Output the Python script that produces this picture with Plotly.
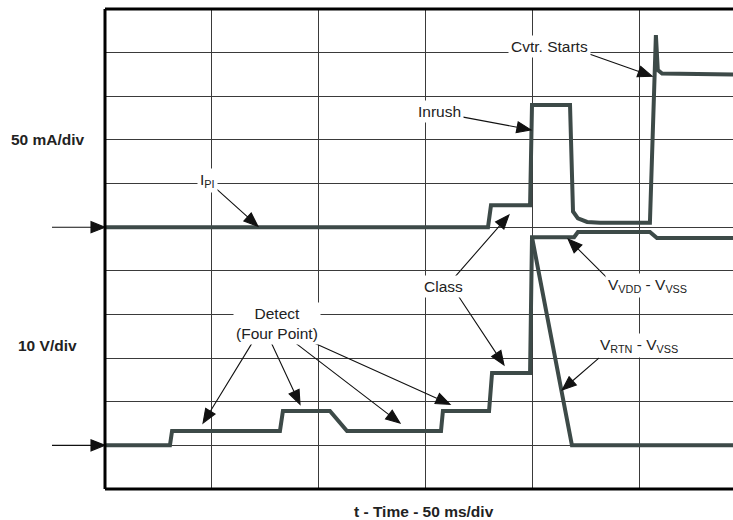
import math
import plotly.graph_objects as go

# ---- scope settings ----
T_DIV = 50      # ms/div
I_DIV = 50      # mA/div
V_DIV = 10      # V/div
I_ZERO = 6      # div (current trace zero level)
V_ZERO = 1      # div (voltage trace zero level)
N_YDIV = 11
T_MAX = 294     # ms shown

# ---- I_PI (mA) ----
t_ipi = [0, 179.3, 180.7, 199.0, 199.9, 217.7, 219.1, 221.4, 225.7, 231.7,
         255.1, 257.9, 258.8, 260.8, 294.0]
i_pi = [0, 0, 25, 25, 140, 140, 18, 10, 6, 5,
        5, 220, 180, 176, 175]

# ---- V_VDD - V_VSS (V) ----
t_vdd = [0, 30.4, 31.4, 81.9, 83.3, 105.3, 113.3, 157.3, 158.2, 179.8,
         181.2, 199.0, 199.9, 219.6, 221.4, 255.1, 258.4, 294.0]
v_vdd = [0, 0, 3.3, 3.3, 7.9, 7.9, 3.3, 3.3, 7.9, 7.9,
         16.6, 16.6, 47.7, 47.7, 48.9, 48.9, 47.5, 47.5]

# ---- V_RTN - V_VSS after turn-on (V) ----
t_rtn = [199.9, 218.6, 294.0]
v_rtn = [47.7, 0, 0]

TRACE_COLOR = "#3d4a48"
FONT = "Liberation Sans, Arial, sans-serif"

fig = go.Figure()
fig.add_trace(go.Scatter(x=t_ipi, y=[I_ZERO + v / I_DIV for v in i_pi],
                         mode="lines", line=dict(color=TRACE_COLOR, width=4),
                         name="I_PI", hoverinfo="skip"))
fig.add_trace(go.Scatter(x=t_vdd, y=[V_ZERO + v / V_DIV for v in v_vdd],
                         mode="lines", line=dict(color=TRACE_COLOR, width=4),
                         name="VDD-VSS", hoverinfo="skip"))
fig.add_trace(go.Scatter(x=t_rtn, y=[V_ZERO + v / V_DIV for v in v_rtn],
                         mode="lines", line=dict(color=TRACE_COLOR, width=4),
                         name="RTN-VSS", hoverinfo="skip"))

ann = []
shapes = []

def label(text, x, y):
    ann.append(dict(x=x, y=y, xref="x", yref="y", text=text, showarrow=False,
                    xanchor="center", yanchor="middle", bgcolor="white",
                    borderpad=2, font=dict(family=FONT, size=15.5, color="#222")))

def arrow(x, y, dx, dy, xref="x", yref="y"):
    """Arrow whose tip is at (x, y); tail offset (dx, dy) in screen pixels (dy down)."""
    d = math.hypot(dx, dy)
    ux, uy = dx / d, dy / d
    L, W = 14.0, 5.5
    bx, by = ux * L, uy * L
    nx, ny = -uy, ux
    b1x, b1y = bx + nx * W, by + ny * W
    b2x, b2y = bx - nx * W, by - ny * W
    f = lambda v: f"{v:.2f}"
    path = (f"M{f(dx)},{f(-dy)} L{f(bx)},{f(-by)} "
            f"M0,0 L{f(b1x)},{f(-b1y)} L{f(b2x)},{f(-b2y)} Z")
    shapes.append(dict(type="path", xref=xref, yref=yref,
                       xsizemode="pixel", ysizemode="pixel",
                       xanchor=x, yanchor=y, path=path,
                       fillcolor="#111", line=dict(color="#111", width=1.1)))

label("I<sub>PI</sub>", 47.8, 7.06)
label("Cvtr. Starts", 207.9, 10.13)
label("Inrush", 156.8, 8.66)
label("Class", 158.7, 4.63)
label("V<sub>VDD</sub> - V<sub>VSS</sub>", 254.2, 4.67)
label("V<sub>RTN</sub> - V<sub>VSS</sub>", 250.0, 3.30)
label("Detect<br>(Four Point)", 80.5, 3.80)

arrow(71.6, 6.02, -41, -37)      # I_PI
arrow(256.1, 9.46, -62, -22)     # Cvtr. Starts
arrow(199.4, 8.23, -69, -13)     # Inrush
arrow(189.1, 6.28, -54, 62)      # Class (current)
arrow(186.8, 2.84, -47, -71)     # Class (voltage)
arrow(216.8, 5.73, 39, 39)       # VDD-VSS
arrow(214.0, 2.27, 37, -32)      # RTN-VSS
arrow(45.9, 1.51, 49, -80)       # Detect 1
arrow(91.3, 1.94, -29, -62)      # Detect 2
arrow(138.1, 1.51, -107, -82)    # Detect 3
arrow(161.5, 1.94, -142, -64)    # Detect 4
arrow(0, I_ZERO / N_YDIV, -53, 0, xref="paper", yref="paper")
arrow(0, V_ZERO / N_YDIV, -53, 0, xref="paper", yref="paper")

bold = dict(family=FONT, size=15.5, color="#222")
ann.append(dict(x=-0.091, y=0.729, xref="paper", yref="paper", text="<b>50 mA/div</b>",
                showarrow=False, xanchor="center", yanchor="middle", font=bold))
ann.append(dict(x=-0.092, y=0.298, xref="paper", yref="paper", text="<b>10 V/div</b>",
                showarrow=False, xanchor="center", yanchor="middle", font=bold))
ann.append(dict(x=0.508, y=-0.046, xref="paper", yref="paper",
                text="<b>t - Time - 50 ms/div</b>",
                showarrow=False, xanchor="center", yanchor="middle", font=bold))

shapes += [
    dict(type="line", xref="paper", yref="paper", x0=0, x1=0, y0=0, y1=1,
         line=dict(color="black", width=3)),
    dict(type="line", xref="paper", yref="paper", x0=0, x1=1, y0=1, y1=1,
         line=dict(color="black", width=3)),
    dict(type="line", xref="paper", yref="paper", x0=0, x1=1, y0=0, y1=0,
         line=dict(color="black", width=3)),
]

fig.update_layout(
    width=733, height=520,
    margin=dict(l=105, r=0, t=9, b=31),
    paper_bgcolor="white", plot_bgcolor="white",
    showlegend=False,
    annotations=ann,
    shapes=shapes,
    xaxis=dict(range=[0, T_MAX], dtick=T_DIV, tick0=0, showgrid=True,
               gridcolor="#3a3a3a", gridwidth=1, showticklabels=False,
               zeroline=False, showline=False, ticks="", fixedrange=True),
    yaxis=dict(range=[0, N_YDIV], dtick=1, tick0=0, showgrid=True,
               gridcolor="#3a3a3a", gridwidth=1, showticklabels=False,
               zeroline=False, showline=False, ticks="", fixedrange=True),
)

fig.write_html("out.html", config={"displayModeBar": False},
               post_script="document.body.style.margin='0px';")
